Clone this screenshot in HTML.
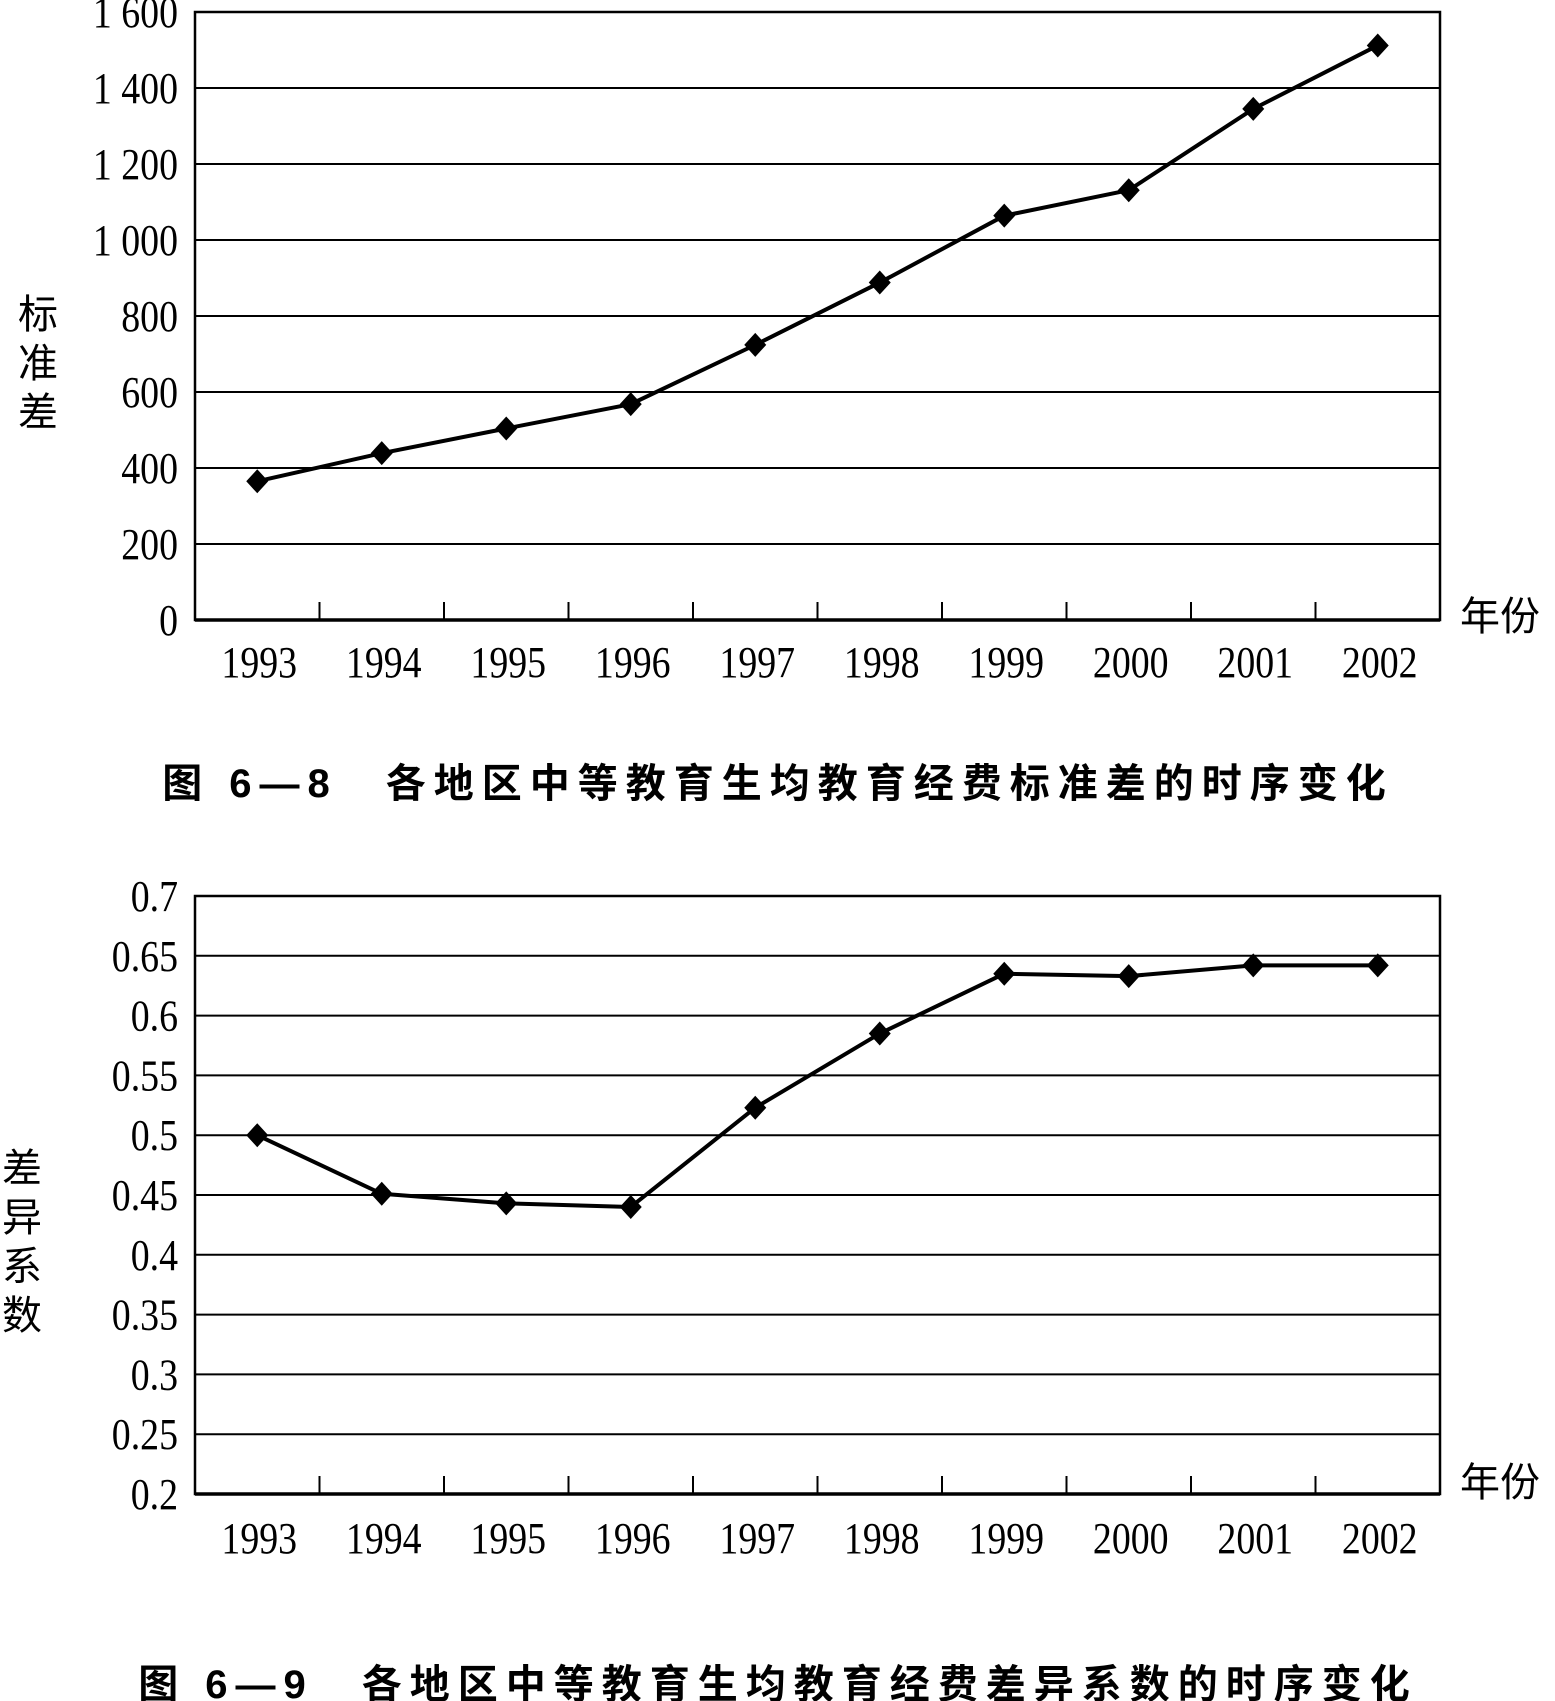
<!DOCTYPE html>
<html><head><meta charset="utf-8">
<style>
html,body{margin:0;padding:0;background:#fff;}
svg{display:block;}
text{font-family:"Liberation Serif","Noto Serif CJK SC",serif;fill:#000;}
.cjk{font-family:"Liberation Sans","Noto Sans CJK SC",sans-serif;}
</style></head>
<body>
<svg id="fig" width="1555" height="1701" viewBox="0 0 1555 1701" xmlns="http://www.w3.org/2000/svg"></svg>
<script>
const years = ["1993","1994","1995","1996","1997","1998","1999","2000","2001","2002"];
const sdValues = [365, 439, 504, 568, 724, 888, 1064, 1131, 1345, 1512];
const sdTicks = [0, 200, 400, 600, 800, 1000, 1200, 1400, 1600];
const sdTickLabels = ["0","200","400","600","800","1 000","1 200","1 400","1 600"];
const cvValues = [0.5, 0.451, 0.443, 0.440, 0.523, 0.585, 0.635, 0.633, 0.642, 0.642];
const cvTicks = [0.2,0.25,0.3,0.35,0.4,0.45,0.5,0.55,0.6,0.65,0.7];
const cvTickLabels = ["0.2","0.25","0.3","0.35","0.4","0.45","0.5","0.55","0.6","0.65","0.7"];

const NS = "http://www.w3.org/2000/svg";
const svg = document.getElementById('fig');
function mk(tag, attrs, parent){
  const e = document.createElementNS(NS, tag);
  for (const k in attrs) e.setAttribute(k, attrs[k]);
  (parent||svg).appendChild(e);
  return e;
}

function drawChart(cfg){
  const g = mk('g', {});
  
  
  const L=195, R=1440, T=cfg.top, B=cfg.bottom;
  const n = years.length, bw = (R-L)/n;
  const xs = i => L + bw*(i+0.5);
  const ys = v => B - (v-cfg.min)/(cfg.max-cfg.min)*(B-T);
  cfg.ticks.forEach((t,i)=>{
    const y = ys(t);
    if (i>0 && i<cfg.ticks.length-1){
      const gl = mk('line',{x1:L,x2:R,y1:y,y2:y,stroke:'#000','stroke-width':2},g);
      
      
    }
    const tx = mk('text',{x:178,y:y+15,'text-anchor':'end','font-size':44,transform:`translate(178 0) scale(0.86 1) translate(-178 0)`},g);
    
    
    tx.textContent = cfg.tickLabels[i];
  });
  const fr = mk('rect',{x:L,y:T,width:R-L,height:B-T,fill:'none',stroke:'#000','stroke-width':2.5},g);
  
  
  const ax = mk('line',{x1:L,x2:R,y1:B,y2:B,stroke:'#000','stroke-width':3.5},g);
  
  
  for (let i=1;i<n;i++){
    const x = L+bw*i;
    const tk = mk('line',{x1:x,x2:x,y1:B-18,y2:B,stroke:'#000','stroke-width':2},g);
    
    
  }
  years.forEach((yr,i)=>{
    const cx = xs(i)+2;
    const tx = mk('text',{x:cx,y:cfg.xlabelY,'text-anchor':'middle','font-size':44,transform:`translate(${cx} 0) scale(0.86 1) translate(${-cx} 0)`},g);
    
    
    tx.textContent = yr;
  });
  const pts = cfg.values.map((v,i)=>xs(i)+','+ys(v)).join(' ');
  const pl = mk('polyline',{points:pts,fill:'none',stroke:'#000','stroke-width':4,'stroke-linejoin':'round'},g);
  
  
  cfg.values.forEach((v,i)=>{
    const x=xs(i), y=ys(v);
    const d = mk('polygon',{points:`${x},${y-12} ${x+11},${y} ${x},${y+12} ${x-11},${y}`,fill:'#000'},g);
    
    
  });
  cfg.ytitle.forEach((ch,i)=>{
    const t = mk('text',{x:cfg.ytitleX,y:cfg.ytitleY+i*cfg.ytitleStep,'text-anchor':'middle','font-size':40,'class':'cjk'},g);
    
    
    t.textContent = ch;
  });
  const xt = mk('text',{x:1500,y:cfg.xtitleY,'text-anchor':'middle','font-size':40,'class':'cjk'},g);
  
  
  xt.textContent = '年份';
  const cap = mk('text',{x:778,y:cfg.capY,'text-anchor':'middle','font-size':40,'font-weight':'bold','class':'cjk','letter-spacing':8},g);
  
  
  cap.textContent = cfg.caption;
}

drawChart({name:'std-dev-chart',top:12,bottom:620,min:0,max:1600,ticks:sdTicks,tickLabels:sdTickLabels,values:sdValues,
  xlabelY:677,ytitle:['标','准','差'],ytitleX:38,ytitleY:328,ytitleStep:49,xtitleY:630,capY:797,
  caption:'图 6—8　各地区中等教育生均教育经费标准差的时序变化'});
drawChart({name:'cv-chart',top:896,bottom:1494,min:0.2,max:0.7,ticks:cvTicks,tickLabels:cvTickLabels,values:cvValues,
  xlabelY:1553,ytitle:['差','异','系','数'],ytitleX:22,ytitleY:1182,ytitleStep:49,xtitleY:1496,capY:1698,
  caption:'图 6—9　各地区中等教育生均教育经费差异系数的时序变化'});
</script>
</body></html>
